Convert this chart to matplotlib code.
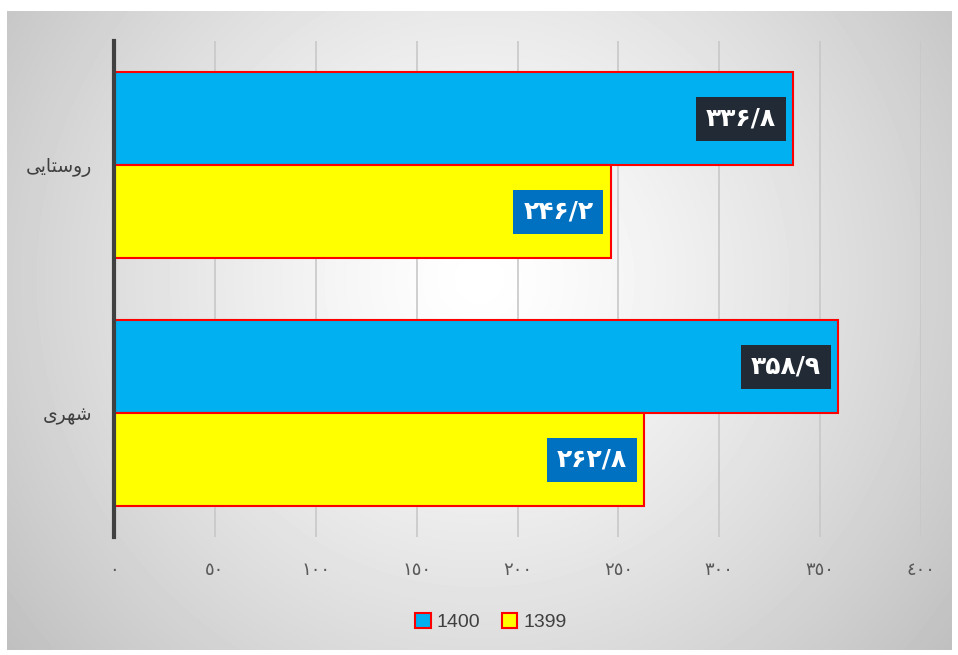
import numpy as np
import matplotlib.pyplot as plt
from matplotlib.patches import Patch

# data
categories = ['روستایی', 'شهری']
# shaped forms for display (matplotlib does no arabic shaping / rtl)
cat_display = ['\uFBFD\uFBFE\uFE8E\uFE98\uFEB3\uFEED\uFEAD',
               '\uFBFC\uFEAE\uFEEC\uFEB7']
vals_1400 = [336.8, 358.9]
vals_1399 = [246.2, 262.8]
series_names = ['1400', '1399']
xticks = [0, 50, 100, 150, 200, 250, 300, 350, 400]

fa_digits = str.maketrans('0123456789.', '۰۱۲۳۴۵۶۷۸۹/')
ar_digits = str.maketrans('0123456789', '٠١٢٣٤٥٦٧٨٩')

W, H = 958, 655
fig = plt.figure(figsize=(W / 100, H / 100), dpi=100)

# radial grey background of the chart area
x0, y0, x1, y1 = 7, 11, 952, 650
bg = fig.add_axes([x0 / W, 1 - y1 / H, (x1 - x0) / W, (y1 - y0) / H], zorder=0)
gx, gy = np.meshgrid(np.linspace(0, 1, x1 - x0), np.linspace(0, 1, y1 - y0))
r = np.sqrt((gx - 0.5) ** 2 + ((gy - 0.42) * 0.68) ** 2)
r = r / r.max()
shade = 1 - 0.25 * r ** 1.3
bg.imshow(shade, cmap='gray', vmin=0, vmax=1, aspect='auto', interpolation='bilinear')
bg.axis('off')

ax = fig.add_axes([114 / W, 1 - 537 / H, (921 - 114) / W, (537 - 41) / H], zorder=1)
ax.patch.set_alpha(0)

h = 0.375
y = np.arange(len(categories))
b1 = ax.barh(y - h / 2, vals_1400, height=h, color='#00b0f0', edgecolor='#ff0000', linewidth=1.5, zorder=3)
b2 = ax.barh(y + h / 2, vals_1399, height=h, color='#ffff00', edgecolor='#ff0000', linewidth=1.5, zorder=3)

for bars, vals, boxc in [(b1, vals_1400, '#222a35'), (b2, vals_1399, '#0070c0')]:
    for bar, v in zip(bars, vals):
        yc = bar.get_y() + bar.get_height() / 2
        ax.annotate(f'{v:.1f}'.translate(fa_digits), xy=(v, yc), xytext=(-12.5, 0),
                    textcoords='offset points', ha='right', va='center',
                    color='white', fontsize=18, fontweight='bold', family='DejaVu Sans',
                    bbox=dict(boxstyle='square,pad=0.4', fc=boxc, ec='none'), zorder=4)

ax.set_xlim(0, 400)
ax.set_ylim(1.5, -0.5)
ax.set_xticks(xticks)
ax.set_xticklabels([str(t).translate(ar_digits) for t in xticks], family='DejaVu Sans',
                   fontsize=13, color='#595959')
ax.set_yticks(y)
ax.set_yticklabels(cat_display, family='DejaVu Sans', fontsize=13.5, color='#404040')
ax.tick_params(axis='y', length=0, pad=16)
ax.tick_params(axis='x', length=0, pad=17)
ax.grid(axis='x', color='#c8c8c8', linewidth=1.2, zorder=0)
for s in ['top', 'right', 'bottom']:
    ax.spines[s].set_visible(False)
ax.spines['left'].set_color('#404040')
ax.spines['left'].set_linewidth(3)
ax.spines['left'].set_zorder(5)

handles = [Patch(facecolor='#00b0f0', edgecolor='#ff0000', linewidth=1.5),
           Patch(facecolor='#ffff00', edgecolor='#ff0000', linewidth=1.5)]
fig.legend(handles, series_names, loc='center', bbox_to_anchor=(491 / W, 1 - 622 / H),
           ncol=2, frameon=False, handlelength=0.8, handleheight=0.8, handletextpad=0.3,
           columnspacing=1.1, prop={'family': 'Liberation Sans', 'size': 14}, labelcolor='#404040')

fig.savefig('out.png', dpi=100)
